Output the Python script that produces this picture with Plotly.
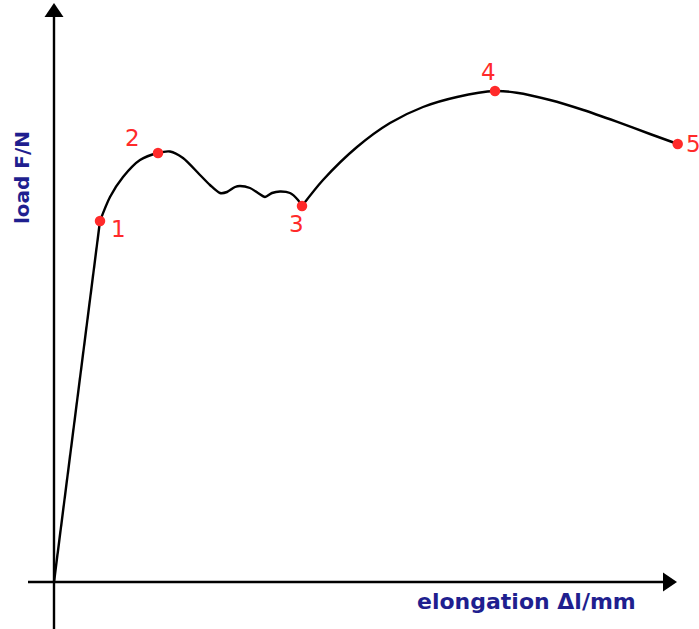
import plotly.graph_objects as go

# Load-elongation curve (arbitrary units: elongation, load)
elastic_x = [0.0, 4.6]
elastic_y = [0.0, 36.1]

curve_x = [4.6, 5.6, 6.9, 8.6, 10.4, 11.6, 12.9, 14.6, 15.6, 16.6, 17.3, 18.1, 18.6,
           19.6, 20.4, 21.1, 21.8, 22.6, 23.6, 24.4, 24.8]
curve_y = [36.1, 38.5, 40.5, 42.2, 42.9, 43.05, 42.4, 40.7, 39.7, 38.9, 39.0, 39.5, 39.6,
           39.4, 38.9, 38.5, 38.9, 39.05, 38.9, 38.2, 37.6]

arc_x = [24.8, 26.9, 30.3, 33.6, 36.9, 40.3, 44.1, 46.27, 49.6, 52.93, 56.27, 59.6, 62.37]
arc_y = [37.6, 40.2, 43.5, 45.9, 47.5, 48.5, 49.1, 48.93, 48.2, 47.2, 46.03, 44.8, 43.8]

# Marked points
point_labels = ["1", "2", "3", "4", "5"]
point_x = [4.6, 10.4, 24.8, 44.1, 62.37]
point_y = [36.1, 42.9, 37.6, 49.1, 43.8]

x_title = "elongation Δl/mm"
y_title = "load F/N"

RED = "#ff2a2a"
BLUE = "#1f1f8f"

fig = go.Figure()
fig.add_trace(go.Scatter(x=elastic_x, y=elastic_y, mode="lines",
                         line=dict(color="black", width=2.4), hoverinfo="skip"))
fig.add_trace(go.Scatter(x=curve_x, y=curve_y, mode="lines",
                         line=dict(color="black", width=2.4, shape="spline", smoothing=0.8),
                         hoverinfo="skip"))
fig.add_trace(go.Scatter(x=arc_x, y=arc_y, mode="lines",
                         line=dict(color="black", width=2.4, shape="spline", smoothing=0.8),
                         hoverinfo="skip"))
fig.add_trace(go.Scatter(x=point_x, y=point_y, mode="markers",
                         marker=dict(color=RED, size=10.5), hoverinfo="skip"))

# Axis lines with arrow heads
x_min, x_max = -5.4, 64.5
y_min, y_max = -4.7, 58.2
shapes = [
    dict(type="line", xref="x", yref="y", x0=0, x1=0, y0=y_min, y1=56.6,
         line=dict(color="black", width=2.4)),
    dict(type="line", xref="x", yref="y", x0=-2.6, x1=60.9, y0=0, y1=0,
         line=dict(color="black", width=2.4)),
    dict(type="path", xref="x", yref="y", xsizemode="pixel", ysizemode="pixel",
         xanchor=0, yanchor=56.5, path="M -9.5,0 L 9.5,0 L 0,14 Z",
         fillcolor="black", line=dict(width=0)),
    dict(type="path", xref="x", yref="y", xsizemode="pixel", ysizemode="pixel",
         xanchor=60.9, yanchor=0, path="M 0,-9.5 L 0,9.5 L 14,0 Z",
         fillcolor="black", line=dict(width=0)),
]

offsets = [(18, -8), (-26, 15), (-6, -18), (-7, 19), (16, 0)]
annotations = []
for lab, px, py, (dx, dy) in zip(point_labels, point_x, point_y, offsets):
    annotations.append(dict(x=px, y=py, text=lab, showarrow=False, xshift=dx, yshift=dy,
                            font=dict(family="DejaVu Sans", size=23, color=RED)))
annotations.append(dict(x=47.2, y=-1.9, text=x_title, showarrow=False,
                        font=dict(family="DejaVu Sans", size=22, color=BLUE, weight="bold"),
                        xref="x", yref="y"))
annotations.append(dict(x=-3.2, y=40.4, text=y_title, showarrow=False, textangle=-90,
                        font=dict(family="DejaVu Sans", size=20, color=BLUE, weight="bold"),
                        xref="x", yref="y"))

fig.update_layout(
    width=699, height=629,
    margin=dict(l=0, r=0, t=0, b=0),
    paper_bgcolor="white", plot_bgcolor="white",
    showlegend=False,
    xaxis=dict(range=[x_min, x_max], visible=False, fixedrange=True),
    yaxis=dict(range=[y_min, y_max], visible=False, fixedrange=True),
    shapes=shapes,
    annotations=annotations,
)

fig.write_html("out.html", config={"displayModeBar": False},
               post_script="document.body.style.margin='0';document.body.style.overflow='hidden';")
